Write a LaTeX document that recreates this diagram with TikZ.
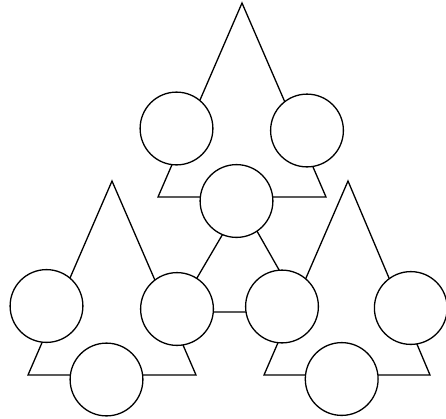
\documentclass[tikz,border=0pt]{standalone}
\begin{document}
\begin{tikzpicture}[x=1pt,y=-1pt,
  edge/.style={line width=1.3pt,line join=miter},
  ring/.style={circle,draw,line width=1.3pt,fill=white,minimum size=72.8pt,inner sep=0pt}]
\useasboundingbox (0,0) rectangle (446,418);
\clip (0,0) rectangle (446,418);
% triangle corners
\coordinate (ta) at (242,3);   \coordinate (tl) at (158,197); \coordinate (tr) at (326,197);
\coordinate (la) at (112,181); \coordinate (ll) at (28,375);  \coordinate (lr) at (196,375);
\coordinate (ra) at (348,181); \coordinate (rl) at (264,375); \coordinate (rr) at (430,375);
% central triangle corners
\coordinate (ca) at (241,203); \coordinate (cl) at (177,312); \coordinate (cr) at (303,312);
\draw[edge] (ta) -- (tl) -- (tr) -- cycle;
\draw[edge] (la) -- (ll) -- (lr) -- cycle;
\draw[edge] (ra) -- (rl) -- (rr) -- cycle;
\draw[edge] (ca) -- (cl) -- (cr) -- cycle;
% circles
\node[ring] (t1) at (176.5,128.5) {};
\node[ring] (t2) at (307,130.5) {};
\node[ring] (t3) at (236.5,201) {};
\node[ring] (l1) at (46.5,306) {};
\node[ring] (l2) at (177,309) {};
\node[ring] (l3) at (106.5,379.5) {};
\node[ring] (r1) at (282,306.5) {};
\node[ring] (r2) at (410.8,308) {};
\node[ring] (r3) at (341.7,379) {};
\end{tikzpicture}
\end{document}
